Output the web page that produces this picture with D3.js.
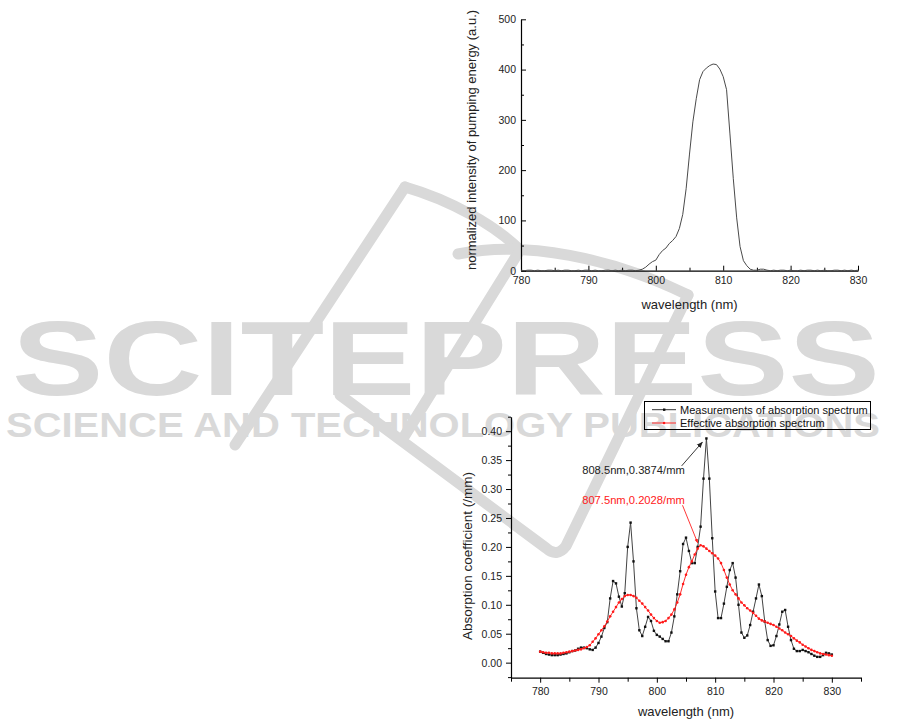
<!DOCTYPE html>
<html><head><meta charset="utf-8">
<script src="https://cdn.jsdelivr.net/npm/d3@7/dist/d3.min.js"></script>
<style>
body{margin:0;background:#fff}
svg{display:block}
text{font-family:"Liberation Sans",Arial,sans-serif}
</style>
</head><body>
<svg id="c" width="901" height="723"></svg>
<script>
// ---------- DATA ----------
const wavelengths = d3.range(780, 830.25, 0.5);   // 0.5 nm sampling grid
const pumpIntensity = [
  1,0,1,1,0,1,0,0,1,1,0,1,0,1,1,0,0,1,0,1,1,0,1,0,0,1,1,0,1,0,1,0,1,1,
  0,1,3,7,13,18,21,32,40,45,54,60,68,84,112,163,232,296,342,380,396,403,408,411,410,401,386,360,272,183,105,48,20,10,3,1,1,3,3,1,
  0,1,0,1,1,0,1,0,0,1,0,1,1,0,1,0,1,0,0,1,1,0,1,0,1,0,1
];
const measuredAbs = [
  0.019,0.017,0.015,0.014,0.013,0.013,0.013,0.014,0.015,0.016,
  0.018,0.020,0.021,0.024,0.026,0.026,0.025,0.023,0.022,0.026,
  0.034,0.045,0.060,0.070,0.111,0.141,0.137,0.114,0.097,0.120,
  0.200,0.242,0.175,0.094,0.056,0.046,0.062,0.079,0.072,0.055,
  0.048,0.045,0.041,0.037,0.037,0.052,0.080,0.118,0.158,0.205,
  0.216,0.193,0.172,0.172,0.200,0.235,0.318,0.3874,0.318,0.215,
  0.123,0.077,0.077,0.102,0.131,0.160,0.172,0.147,0.100,0.052,
  0.043,0.047,0.065,0.088,0.111,0.135,0.115,0.071,0.039,0.029,
  0.030,0.046,0.066,0.088,0.091,0.062,0.039,0.024,0.020,0.020,
  0.022,0.020,0.018,0.015,0.012,0.010,0.010,0.013,0.017,0.016,
  0.014
];
const effectiveAbs = [
  0.019,0.018,0.017,0.017,0.016,0.016,0.016,0.016,0.017,0.018,
  0.019,0.020,0.021,0.022,0.023,0.025,0.027,0.030,0.036,0.042,
  0.049,0.056,0.063,0.071,0.080,0.088,0.096,0.104,0.110,0.115,
  0.117,0.117,0.115,0.112,0.107,0.102,0.096,0.090,0.083,0.077,
  0.072,0.069,0.070,0.072,0.077,0.083,0.092,0.104,0.118,0.136,
  0.152,0.165,0.175,0.187,0.197,0.2028,0.201,0.197,0.193,0.189,
  0.185,0.180,0.172,0.160,0.147,0.135,0.125,0.118,0.111,0.104,
  0.099,0.094,0.090,0.086,0.081,0.076,0.073,0.071,0.069,0.067,
  0.065,0.062,0.059,0.056,0.052,0.049,0.046,0.042,0.038,0.035,
  0.031,0.028,0.025,0.022,0.020,0.018,0.016,0.015,0.014,0.013,
  0.012
];
const topXTicks = [780,790,800,810,820,830];
const topYTicks = [0,100,200,300,400,500];
const botXTicks = [780,790,800,810,820,830];
const botYTicks = [0,0.05,0.10,0.15,0.20,0.25,0.30,0.35,0.40];
const legendLabels = ["Measurements of absorption spectrum","Effective absorption spectrum"];
const peakMeasuredLabel = "808.5nm,0.3874/mm";
const peakEffectiveLabel = "807.5nm,0.2028/mm";
const watermarkTitle = "SCITEPRESS";
const watermarkSub = "SCIENCE AND TECHNOLOGY PUBLICATIONS";

// ---------- SVG ----------
const svg = d3.select("#c");
const defs = svg.append("defs");
defs.append("marker").attr("id","arrBlack").attr("viewBox","0 0 10 10").attr("refX",9).attr("refY",5)
  .attr("markerWidth",7).attr("markerHeight",7).attr("orient","auto")
  .append("path").attr("d","M0,1 L10,5 L0,9 z").attr("fill","#222");
defs.append("marker").attr("id","arrRed").attr("viewBox","0 0 10 10").attr("refX",9).attr("refY",5)
  .attr("markerWidth",5).attr("markerHeight",5).attr("orient","auto")
  .append("path").attr("d","M0,1 L10,5 L0,9 z").attr("fill","#ff2020");

// watermark (decoration, behind everything)
const wmColor = "#d9d9d9";
const wm = svg.append("g");
const sw = wm.append("g").attr("fill","none").attr("stroke",wmColor).attr("stroke-width",11)
  .attr("stroke-linecap","round").attr("stroke-linejoin","round");
sw.append("path").attr("d","M235,445 L405,187");
sw.append("path").attr("d","M405,187 C450,200 495,225 520,250");
sw.append("path").attr("d","M458,254 C525,240 612,258 688,295");
sw.append("path").attr("d","M520,250 L402,440");
sw.append("path").attr("d","M340,395 L546,548 Q557,558 566,546 L688,295");
wm.append("text").attr("x",12).attr("y",395).attr("font-size",106).attr("font-weight","bold")
  .attr("font-family","DejaVu Sans").attr("fill",wmColor)
  .attr("textLength",868).attr("lengthAdjust","spacingAndGlyphs").text(watermarkTitle);
wm.append("text").attr("x",6).attr("y",437).attr("font-size",35).attr("font-weight","bold")
  .attr("font-family","DejaVu Sans").attr("fill",wmColor)
  .attr("textLength",874).attr("lengthAdjust","spacingAndGlyphs").text(watermarkSub);

const axisColor = "#000";
function styleAxis(g){
  g.selectAll("path.domain").attr("stroke",axisColor).attr("stroke-width",1.2);
  g.selectAll(".tick line").attr("stroke",axisColor).attr("stroke-width",1);
  g.selectAll(".tick text").attr("fill","#222").attr("font-size",10.5)
    .attr("font-family","'Liberation Sans',Arial,sans-serif");
}

// ---------- TOP CHART ----------
const tx = d3.scaleLinear().domain([780,830]).range([521,858]);
const ty = d3.scaleLinear().domain([0,500]).range([270.7,19.3]);

const tMinorX = d3.range(785,830,10);
const tMinorY = d3.range(50,500,100);
svg.append("g").attr("transform","translate(0,"+ty(0)+")")
  .call(d3.axisBottom(tx).tickValues(tMinorX).tickSize(-3).tickFormat(""))
  .call(g=>{g.select(".domain").remove();styleAxis(g);});
svg.append("g").attr("transform","translate("+tx(780)+",0)")
  .call(d3.axisLeft(ty).tickValues(tMinorY).tickSize(-3).tickFormat(""))
  .call(g=>{g.select(".domain").remove();styleAxis(g);});
svg.append("g").attr("transform","translate(0,"+ty(0)+")")
  .call(d3.axisBottom(tx).tickValues(topXTicks).tickSize(-5).tickPadding(6).tickSizeOuter(0))
  .call(styleAxis);
svg.append("g").attr("transform","translate("+tx(780)+",0)")
  .call(d3.axisLeft(ty).tickValues(topYTicks).tickSize(-5).tickPadding(5).tickSizeOuter(0))
  .call(styleAxis);

svg.append("path")
  .datum(wavelengths.map((w,i)=>[w,pumpIntensity[i]]))
  .attr("fill","none").attr("stroke","#4a4a4a").attr("stroke-width",1)
  .attr("d",d3.line().x(d=>tx(d[0])).y(d=>ty(d[1])));

svg.append("text").attr("x",(tx(780)+tx(830))/2).attr("y",309).attr("text-anchor","middle")
  .attr("font-size",13).attr("fill","#222").text("wavelength (nm)");
svg.append("text").attr("transform","translate(476,140) rotate(-90)").attr("text-anchor","middle")
  .attr("font-size",13).attr("fill","#222").text("normalized intensity of pumping energy (a.u.)");

// ---------- BOTTOM CHART ----------
const bx = d3.scaleLinear().domain([775,835]).range([511,861]);
const by = d3.scaleLinear().domain([-0.026,0.425]).range([677.7,416.7]);

const bMinorX = d3.range(775,836,10);
const bMinorY = d3.range(-0.025,0.43,0.05);
svg.append("g").attr("transform","translate(0,"+by(-0.026)+")")
  .call(d3.axisBottom(bx).tickValues(bMinorX).tickSize(4).tickFormat(""))
  .call(g=>{g.select(".domain").remove();styleAxis(g);});
svg.append("g").attr("transform","translate("+bx(775)+",0)")
  .call(d3.axisLeft(by).tickValues(bMinorY).tickSize(3).tickFormat(""))
  .call(g=>{g.select(".domain").remove();styleAxis(g);});
svg.append("g").attr("transform","translate(0,"+by(-0.026)+")")
  .call(d3.axisBottom(bx).tickValues(botXTicks).tickSize(5).tickPadding(5).tickSizeOuter(0))
  .call(styleAxis);
svg.append("g").attr("transform","translate("+bx(775)+",0)")
  .call(d3.axisLeft(by).tickValues(botYTicks).tickSize(5).tickPadding(4).tickSizeOuter(0).tickFormat(d3.format(".2f")))
  .call(styleAxis);

const measPts = wavelengths.map((w,i)=>[w,measuredAbs[i]]);
const effPts = wavelengths.map((w,i)=>[w,effectiveAbs[i]]);
const bline = d3.line().x(d=>bx(d[0])).y(d=>by(d[1]));

svg.append("path").datum(measPts).attr("fill","none").attr("stroke","#444").attr("stroke-width",1).attr("d",bline);
svg.append("g").selectAll("rect").data(measPts).join("rect")
  .attr("x",d=>bx(d[0])-1.2).attr("y",d=>by(d[1])-1.2).attr("width",2.4).attr("height",2.4).attr("fill","#111");

svg.append("path").datum(effPts).attr("fill","none").attr("stroke","#ff2a2a").attr("stroke-width",1).attr("d",bline);
svg.append("g").selectAll("circle").data(effPts).join("circle")
  .attr("cx",d=>bx(d[0])).attr("cy",d=>by(d[1])).attr("r",1.3).attr("fill","#ff1a1a");

// annotations
svg.append("line").attr("x1",bx(804.25)).attr("y1",by(0.340)).attr("x2",bx(807.8)).attr("y2",by(0.381))
  .attr("stroke","#222").attr("stroke-width",0.9).attr("marker-end","url(#arrBlack)");
svg.append("text").attr("x",bx(787.2)).attr("y",by(0.326)).attr("font-size",11.2).attr("fill","#222").text(peakMeasuredLabel);
svg.append("line").attr("x1",bx(804.4)).attr("y1",by(0.272)).attr("x2",bx(807.0)).attr("y2",by(0.207))
  .attr("stroke","#ff2020").attr("stroke-width",0.9).attr("marker-end","url(#arrRed)");
svg.append("text").attr("x",bx(787.2)).attr("y",by(0.274)).attr("font-size",11.2).attr("fill","#ff2020").text(peakEffectiveLabel);

svg.append("text").attr("x",686).attr("y",716).attr("text-anchor","middle")
  .attr("font-size",13).attr("fill","#222").text("wavelength (nm)");
svg.append("text").attr("transform","translate(472,556) rotate(-90)").attr("text-anchor","middle")
  .attr("font-size",13.5).attr("fill","#222").text("Absorption coefficient (/mm)");

// legend
const lg = svg.append("g");
lg.append("rect").attr("x",644.5).attr("y",401.5).attr("width",226).attr("height",28)
  .attr("fill","none").attr("stroke","#000").attr("stroke-width",1);
const legY = [409.7,423];
lg.append("line").attr("x1",652).attr("x2",676).attr("y1",legY[0]).attr("y2",legY[0]).attr("stroke","#333");
lg.append("rect").attr("x",663).attr("y",legY[0]-1.2).attr("width",2.4).attr("height",2.4).attr("fill","#111");
lg.append("line").attr("x1",652).attr("x2",676).attr("y1",legY[1]).attr("y2",legY[1]).attr("stroke","#ff2a2a");
lg.append("circle").attr("cx",664).attr("cy",legY[1]).attr("r",1.3).attr("fill","#ff1a1a");
lg.selectAll("text.lt").data(legendLabels).join("text").attr("class","lt")
  .attr("x",680).attr("y",(d,i)=>legY[i]+4).attr("font-size",11).attr("fill","#111").text(d=>d);
</script>
</body></html>
